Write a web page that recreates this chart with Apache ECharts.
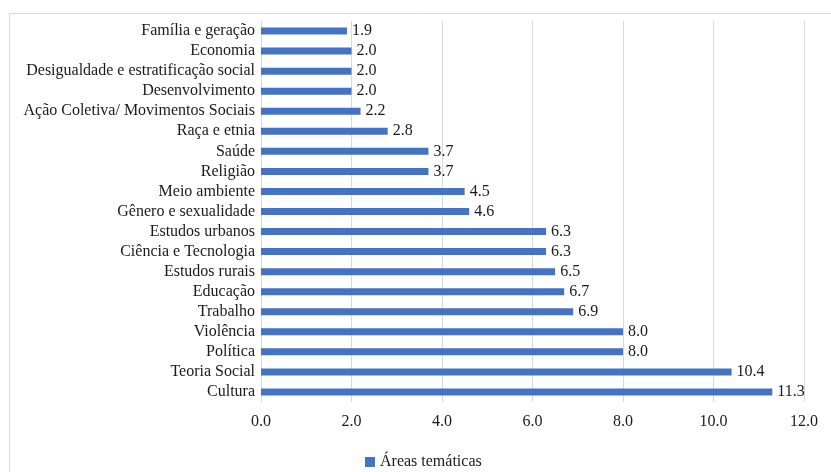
<!DOCTYPE html>
<html>
<head>
<meta charset="utf-8">
<script src="https://cdn.jsdelivr.net/npm/echarts@6/dist/echarts.min.js"></script>
<style>
  html, body { margin: 0; padding: 0; background: #fff; }
  #chart { width: 831px; height: 472px; }
</style>
</head>
<body>
<div id="chart"></div>
<script>
// Thematic areas, listed from the bottom bar upwards
const categories = [
  'Cultura', 'Teoria Social', 'Política', 'Violência', 'Trabalho',
  'Educação', 'Estudos rurais', 'Ciência e Tecnologia', 'Estudos urbanos',
  'Gênero e sexualidade', 'Meio ambiente', 'Religião', 'Saúde',
  'Raça e etnia', 'Ação Coletiva/ Movimentos Sociais', 'Desenvolvimento',
  'Desigualdade e estratificação social', 'Economia', 'Família e geração'
];
const values = [
  11.3, 10.4, 8.0, 8.0, 6.9,
  6.7, 6.5, 6.3, 6.3,
  4.6, 4.5, 3.7, 3.7,
  2.8, 2.2, 2.0,
  2.0, 2.0, 1.9
];
const seriesName = 'Áreas temáticas';
const xTicks = [0, 2, 4, 6, 8, 10, 12];

const FONT = 'Times New Roman, Liberation Serif, serif';
const TEXT = '#1a1a1a';
const FS = 16;

const chart = echarts.init(document.getElementById('chart'), null, { renderer: 'canvas' });
chart.setOption({
  animation: false,
  backgroundColor: '#fff',
  textStyle: { fontFamily: FONT },
  graphic: [{
    type: 'rect',
    left: 7, top: 11,
    shape: { width: 840, height: 480 },
    style: { fill: 'none', stroke: '#d9d9d9', lineWidth: 1 },
    silent: true
  }],
  grid: { left: 261, right: 27, top: 21, bottom: 70 },
  legend: {
    bottom: 2,
    left: 365,
    padding: 0,
    icon: 'rect',
    itemWidth: 10,
    itemHeight: 10,
    itemGap: 5,
    textStyle: { fontFamily: FONT, fontSize: FS, color: TEXT },
    data: [seriesName]
  },
  xAxis: {
    type: 'value',
    min: xTicks[0],
    max: xTicks[xTicks.length - 1],
    interval: 2,
    axisLine: { show: false },
    axisTick: { show: false },
    splitLine: { show: true, lineStyle: { color: '#d9d9d9', width: 1 } },
    axisLabel: {
      fontFamily: FONT, fontSize: FS, color: TEXT, margin: 12,
      formatter: v => v.toFixed(1)
    }
  },
  yAxis: {
    type: 'category',
    data: categories,
    axisLine: { show: true, lineStyle: { color: '#d9d9d9', width: 1 } },
    axisTick: { show: false },
    axisLabel: { interval: 0, fontFamily: FONT, fontSize: FS, color: TEXT, margin: 6 }
  },
  series: [{
    name: seriesName,
    type: 'bar',
    data: values,
    barWidth: 7,
    itemStyle: { color: '#4472C4' },
    label: {
      show: true,
      position: 'right',
      distance: 5,
      fontFamily: FONT,
      fontSize: FS,
      color: TEXT,
      formatter: p => p.value.toFixed(1)
    }
  }]
});
</script>
</body>
</html>
